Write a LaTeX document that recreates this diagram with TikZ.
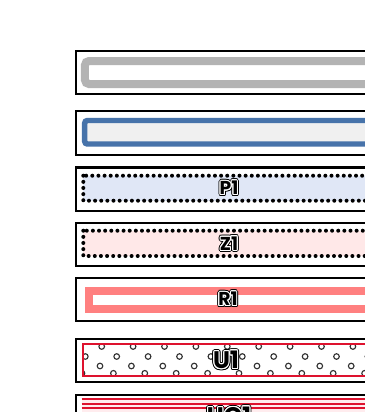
\documentclass[tikz,border=0pt]{standalone}
\usepackage{fontspec}
\usepackage{contour}
\usetikzlibrary{calc}
\newfontfamily\tagfont{Poppins}
\definecolor{frameGray}{RGB}{179,179,179}
\definecolor{frameBlue}{RGB}{71,115,170}
\definecolor{paleGray}{RGB}{240,240,240}
\definecolor{paleBlue}{RGB}{224,231,246}
\definecolor{palePink}{RGB}{255,232,232}
\definecolor{stripePink}{RGB}{255,236,238}
\definecolor{salmonRed}{RGB}{255,128,128}
\definecolor{crimson}{RGB}{222,18,46}
\definecolor{ringGray}{RGB}{50,50,50}
\newcommand{\haloText}[1]{\rlap{\contourlength{1.5pt}\contour{black}{\textcolor{white}{#1}}}\contourlength{0.75pt}\contour{white}{#1}}
\tikzset{
  outer frame/.style={draw=black,line width=1.6pt,fill=white},
  dot frame/.style={draw=black,line width=3pt,line cap=round,dash pattern=on 0pt off 4.6pt},
  tag label/.style={inner sep=0pt,text=black,font=\tagfont\bfseries\fontsize{14}{14}\selectfont},
  big tag label/.style={tag label,font=\tagfont\bfseries\fontsize{18}{18}\selectfont},
  ring/.style={draw=ringGray,line width=0.85pt}
}
\begin{document}
\begin{tikzpicture}[x=0.75pt,y=-0.75pt]
  \useasboundingbox (0,0) rectangle (365,412);
  \clip (0,0) rectangle (365,412);
  % gray rounded frame
  \draw[outer frame] (76,51) rectangle (430,94);
  \draw[draw=frameGray,line width=6pt,rounded corners=3,fill=white] (85,61) rectangle (440,84);
  % blue rounded frame
  \draw[outer frame] (76,111) rectangle (430,155);
  \draw[draw=frameBlue,line width=4.1pt,rounded corners=2,fill=paleGray] (84.7,120.5) rectangle (440,144);
  % P1
  \draw[outer frame] (76,167.5) rectangle (430,210.7);
  \fill[paleBlue] (83.3,175.7) rectangle (440,200.7);
  \draw[dot frame] (83.3,175.7) rectangle (440,200.7);
  \node[tag label] (p1) at (229,189) {\haloText{P1}};
  % Z1
  \draw[outer frame] (76,223.3) rectangle (430,266);
  \fill[palePink] (83.3,230.7) rectangle (440,256);
  \draw[dot frame] (83.3,230.7) rectangle (440,256);
  \node[tag label] (z1) at (229,244.5) {\haloText{Z1}};
  % R1
  \draw[outer frame] (76,278.3) rectangle (430,320.7);
  \draw[draw=salmonRed,line width=6pt,fill=white] (89,290.7) rectangle (440,308.7);
  \node[tag label] (r1) at (228,300) {\haloText{R1}};
  % U1
  \draw[outer frame] (76,339.3) rectangle (430,381.7);
  \begin{scope}
    \clip (82.7,343.7) rectangle (440,376.3);
    \foreach \k in {-1,...,10} {
      \begin{scope}[shift={(101.7+31.4*\k,0)}]
        \draw[ring] (0,346.5) circle (2.8);
        \draw[ring] (15,356.5) circle (2.8);
        \draw[ring] (-1.7,366) circle (2.8);
        \draw[ring] (11.7,373.3) circle (2.8);
      \end{scope}
    }
  \end{scope}
  \draw[draw=crimson,line width=1.5pt] (82.7,343.7) rectangle (440,376.3);
  \node[big tag label] (u1) at (226,361) {\haloText{U1}};
  % UC1
  \draw[outer frame] (76,395) rectangle (430,470);
  \fill[stripePink] (81.7,398) rectangle (440,470);
  \foreach \y in {399.3,403.8,...,430} {
    \draw[crimson,line width=1.3pt] (81.7,\y) -- (440,\y);
  }
  \node[big tag label] (uc1) at (229,417) {\haloText{UC1}};
\end{tikzpicture}
\end{document}
